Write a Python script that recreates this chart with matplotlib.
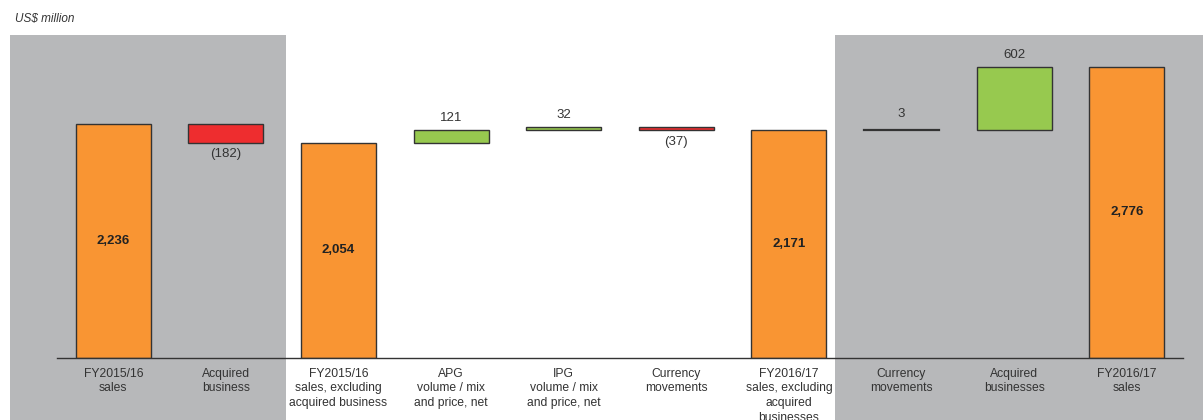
import matplotlib

matplotlib.use("Agg")

import matplotlib.pyplot as plt
import numpy as np

# Sales bridge, US$ million
categories = [
    "FY2015/16\nsales",
    "Acquired\nbusiness",
    "FY2015/16\nsales, excluding\nacquired business",
    "APG\nvolume / mix\nand price, net",
    "IPG\nvolume / mix\nand price, net",
    "Currency\nmovements",
    "FY2016/17\nsales, excluding\nacquired\nbusinesses",
    "Currency\nmovements",
    "Acquired\nbusinesses",
    "FY2016/17\nsales",
]
values = [2236, -182, 2054, 121, 32, -37, 2171, 3, 602, 2776]
is_total = [True, False, True, False, False, False, True, False, False, True]

ORANGE = "#F99533"
RED = "#EE2D2F"
GREEN = "#97C94F"
GREY_PANEL = "#B7B8BA"
EDGE = "#333333"
TEXT = "#333333"

plt.rcParams.update({
    "font.family": ["Liberation Sans", "DejaVu Sans"],
    "font.size": 8.5,
    "text.color": TEXT,
})

fig = plt.figure(figsize=(12.03, 4.2), dpi=100)
fig.patch.set_facecolor("white")
ax = fig.add_axes([57 / 1203, 62 / 420, (1183 - 57) / 1203, (385 - 62) / 420])
ax.set_facecolor("none")
ax.set_xlim(-0.5, 9.5)
ax.set_ylim(0, 3080)

# shaded panels behind the reported totals, running down past the axis
ymin_panel = -62 / 323
ax.axvspan(-0.92, 1.533, ymin=ymin_panel, ymax=1, color=GREY_PANEL, lw=0,
           clip_on=False, zorder=0)
ax.axvspan(6.41, 9.7, ymin=ymin_panel, ymax=1, color=GREY_PANEL, lw=0,
           clip_on=False, zorder=0)

x = np.arange(len(values))
width = 0.667
running = 0
for i, (v, tot) in enumerate(zip(values, is_total)):
    if tot:
        bottom, height, color = 0, v, ORANGE
        running = v
    else:
        if v >= 0:
            bottom, height = running, v
            color = GREEN
        else:
            bottom, height = running + v, -v
            color = RED
        running += v
    tiny = not tot and abs(v) < 5
    if tiny:
        # tiny movement shown as a flat line
        ax.plot([x[i] - width / 2, x[i] + width / 2], [bottom + height, bottom + height],
                color=EDGE, lw=1.6, zorder=3)
    else:
        ax.bar(x[i], height, bottom=bottom, width=width, color=color,
               edgecolor=EDGE, linewidth=1.0, zorder=3)

    if tot:
        ax.text(x[i], v / 2, f"{v:,}", ha="center", va="center",
                fontweight="bold", fontsize=9.5, color="#222222", zorder=4)
    elif v >= 0:
        ax.annotate(f"{v:,}", xy=(x[i], bottom + height), xytext=(0, 7 if tiny else 4),
                    textcoords="offset points", ha="center", va="bottom",
                    fontsize=9.5, zorder=4)
    else:
        ax.annotate(f"({-v:,})", xy=(x[i], bottom), xytext=(0, -4),
                    textcoords="offset points", ha="center", va="top",
                    fontsize=9.5, zorder=4)

for side in ["top", "right", "left"]:
    ax.spines[side].set_visible(False)
ax.spines["bottom"].set_color(EDGE)
ax.spines["bottom"].set_linewidth(1.0)
ax.spines["bottom"].set_zorder(5)
ax.set_yticks([])
ax.set_xticks(x)
ax.set_xticklabels(categories, fontsize=8.7, color=TEXT, linespacing=1.3)
ax.tick_params(axis="x", length=0, pad=7)

fig.text(15 / 1203, 1 - 19 / 420, "US$ million", ha="left", va="center",
         fontstyle="italic", fontsize=8.5, color=TEXT)

fig.savefig("out.png", dpi=100)
